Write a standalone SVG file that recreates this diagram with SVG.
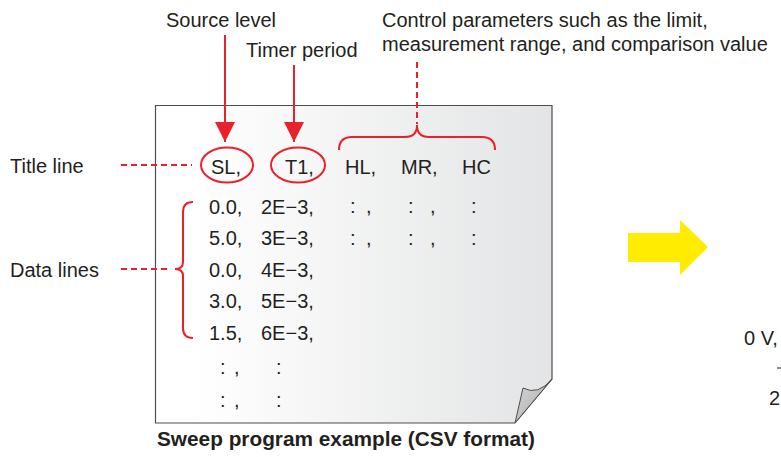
<svg xmlns="http://www.w3.org/2000/svg" width="781" height="457" viewBox="0 0 781 457">
<style>
text{font-family:"Liberation Sans",Arial,Helvetica,sans-serif;font-size:20px;fill:#231f20}
.cap{font-weight:bold;font-size:20.8px}
.red{stroke:#e8212b;stroke-width:2;fill:none}
.dash{stroke:#e8212b;stroke-width:2;fill:none;stroke-dasharray:6,4}
</style>
<defs>
<linearGradient id="pg" x1="0" y1="0" x2="1" y2="0">
<stop offset="0.1" stop-color="#ffffff"/>
<stop offset="1" stop-color="#e3e4e5"/>
</linearGradient>
<linearGradient id="fl" x1="0" y1="0" x2="1" y2="1">
<stop offset="0" stop-color="#d8d8d8"/>
<stop offset="1" stop-color="#a8a8a8"/>
</linearGradient>
<marker id="ah" viewBox="0 0 20 20" refX="20" refY="10" markerWidth="20" markerHeight="20" markerUnits="userSpaceOnUse" orient="auto">
<path d="M0,0 L20,10 L0,20 Z" fill="#e8212b"/>
</marker>
</defs>
<g id="page">
<path d="M155.5,105.5 H552 V379 L515,423 H155.5 Z" fill="url(#pg)" stroke="#4d4d4d" stroke-width="1.2"/>
<path d="M523,388 Q538,396 552,379 L515,423 Z" fill="url(#fl)" stroke="#4d4d4d" stroke-width="1"/>
</g>
<g id="connectors">
<line class="red" x1="225" y1="35" x2="225" y2="142" marker-end="url(#ah)"/>
<line class="red" x1="294" y1="65" x2="294" y2="142" marker-end="url(#ah)"/>
<line class="dash" x1="417" y1="62" x2="417" y2="124"/>
<path class="red" d="M339,150 Q339,137 352,137 H405 Q417,137 417,125 Q417,137 429,137 H482 Q495,137 495,150"/>
<line class="dash" x1="121" y1="165" x2="192" y2="165"/>
<line class="dash" x1="121" y1="269" x2="168" y2="269"/>
<path class="red" d="M193,202 Q183,202 183,212 V262 Q183,269 175,269 Q183,269 183,276 V328 Q183,338 193,338"/>
</g>
<g id="source-level"><text x="166" y="27">Source level</text></g>
<g id="timer-period"><text x="246" y="57">Timer period</text></g>
<g id="control-params"><text x="382" y="27">Control parameters such as the limit,</text><text x="382" y="51">measurement range, and comparison value</text></g>
<g id="title-line-label"><text x="10" y="173">Title line</text></g>
<g id="data-lines-label"><text x="10" y="277">Data lines</text></g>
<g id="sl"><ellipse class="red" cx="227" cy="165" rx="26" ry="17.5"/><text x="211" y="174">SL,</text></g>
<g id="t1"><ellipse class="red" cx="298" cy="165" rx="27" ry="17.5"/><text x="285" y="174">T1,</text></g>
<g id="title-rest"><text x="345" y="174">HL,</text><text x="401" y="174">MR,</text><text x="462" y="174">HC</text></g>
<g id="data">
<text x="209" y="214">0.0,</text><text x="261" y="214">2E−3,</text>
<text x="209" y="245">5.0,</text><text x="261" y="245">3E−3,</text>
<text x="209" y="277">0.0,</text><text x="261" y="277">4E−3,</text>
<text x="209" y="308">3.0,</text><text x="261" y="308">5E−3,</text>
<text x="209" y="340">1.5,</text><text x="261" y="340">6E−3,</text>
<text x="220" y="374">:</text><text x="234" y="374">,</text><text x="276" y="374">:</text>
<text x="220" y="407">:</text><text x="234" y="407">,</text><text x="276" y="407">:</text>
<text x="350" y="213">:</text><text x="366" y="213">,</text><text x="408" y="213">:</text><text x="430" y="213">,</text><text x="471" y="213">:</text>
<text x="350" y="245">:</text><text x="366" y="245">,</text><text x="408" y="245">:</text><text x="430" y="245">,</text><text x="471" y="245">:</text>
</g>
<g id="caption"><text class="cap" x="157" y="446">Sweep program example (CSV format)</text></g>
<g id="yellow-arrow"><path d="M628,233 H680 V220 L708,247 L680,275 V262 H628 Z" fill="#ffec00"/></g>
<g id="right-edge">
<text x="744" y="345">0 V,</text>
<line x1="777" y1="368" x2="781" y2="368" stroke="#231f20" stroke-width="1"/>
<text x="769" y="405">2</text>
</g>
</svg>
